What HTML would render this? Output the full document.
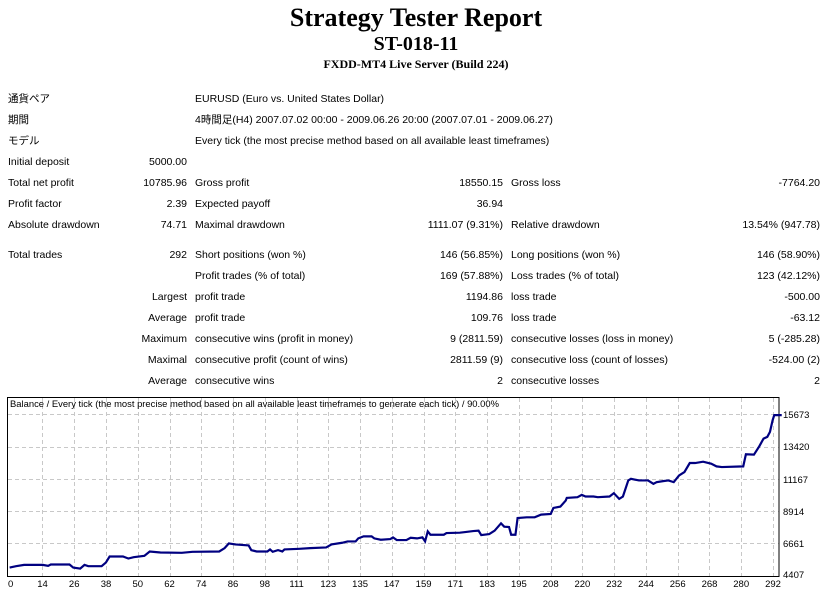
<!DOCTYPE html>
<html><head><meta charset="utf-8"><style>
body{margin:0;width:832px;height:593px;background:#fff;position:relative;overflow:hidden;font-family:"Liberation Sans","Noto Sans CJK JP",sans-serif;font-size:10.5px;color:#000}
.a{position:absolute;white-space:nowrap;line-height:13px}
.r{text-align:right}
h1,h2,h3{margin:0;position:absolute;left:0;width:832px;text-align:center;font-family:"Liberation Serif",serif;font-weight:bold}
</style></head><body>
<h1 style="top:3px;font-size:26px">Strategy Tester Report</h1>
<h2 style="top:33px;font-size:20px">ST-018-11</h2>
<h3 style="top:57px;font-size:12px">FXDD-MT4 Live Server (Build 224)</h3>
<div id="t"></div>
<svg width="832" height="593" style="position:absolute;left:0;top:0" xmlns="http://www.w3.org/2000/svg">
<g stroke="#c8c8c8" stroke-dasharray="4,3" stroke-width="1">
<line x1="8" x2="779" y1="414.5" y2="414.5"/><line x1="8" x2="779" y1="447.5" y2="447.5"/><line x1="8" x2="779" y1="479.5" y2="479.5"/><line x1="8" x2="779" y1="511.5" y2="511.5"/><line x1="8" x2="779" y1="543.5" y2="543.5"/>
</g>
<g id="vg" stroke="#c8c8c8" stroke-dasharray="4,3"></g>
<rect x="7.5" y="397.5" width="771.5" height="179" fill="none" stroke="#000"/>
<g transform="translate(0,390) scale(0.5347,0.335)"><polyline fill="none" stroke="#000080" stroke-width="2.2" vector-effect="non-scaling-stroke" points="18,530 30,526 45,522 80,522 90,525 95,521 130,521 137,530 150,533 158,522 165,526 190,526 198,515 205,497 230,497 240,503 250,499 270,495 280,482 300,485 340,486 360,483 410,482 420,472 428,458 440,461 465,464 470,478 480,482 500,482 505,476 510,483 520,478 528,482 532,476 560,474 580,472 610,470 620,461 640,456 650,452 665,452 670,443 680,437 695,437 700,443 712,447 730,445 735,440 742,448 760,448 768,441 780,443 790,440 795,452 800,422 805,432 830,432 835,427 860,426 870,424 885,421 895,420 900,433 915,430 925,420 937,398 943,408 952,409 956,432 964,432 968,382 985,380 1000,380 1012,372 1030,370 1035,352 1048,348 1058,330 1060,322 1080,320 1088,313 1095,318 1110,318 1118,320 1140,318 1148,308 1158,325 1165,318 1175,270 1180,265 1195,270 1212,270 1222,280 1228,275 1240,272 1250,270 1260,275 1270,255 1280,245 1290,218 1300,218 1315,214 1330,220 1340,228 1350,230 1390,228 1395,192 1410,193 1420,168 1428,145 1435,140 1440,125 1445,90 1448,75 1462,75"/></g>
<g font-family="Liberation Sans,sans-serif" font-size="9.5" fill="#000">
<text x="10" y="407" textLength="489" lengthAdjust="spacingAndGlyphs">Balance / Every tick (the most precise method based on all available least timeframes to generate each tick) / 90.00%</text>
<text x="783" y="418">15673</text><text x="783" y="450">13420</text><text x="783" y="483">11167</text><text x="783" y="515">8914</text><text x="783" y="547">6661</text><text x="783" y="578">4407</text>
</g>
<g id="xl" font-family="Liberation Sans,sans-serif" font-size="9.5" text-anchor="middle"></g>
</svg>
<script>
var rows=[
[100,"通貨ペア","","EURUSD (Euro vs. United States Dollar)"],
[121,"期間","","4時間足(H4) 2007.07.02 00:00 - 2009.06.26 20:00 (2007.07.01 - 2009.06.27)"],
[142,"モデル","","Every tick (the most precise method based on all available least timeframes)"],
[163,"Initial deposit","5000.00"],
[184,"Total net profit","10785.96","Gross profit","18550.15","Gross loss","-7764.20"],
[205,"Profit factor","2.39","Expected payoff","36.94"],
[226,"Absolute drawdown","74.71","Maximal drawdown","1111.07 (9.31%)","Relative drawdown","13.54% (947.78)"],
[256,"Total trades","292","Short positions (won %)","146 (56.85%)","Long positions (won %)","146 (58.90%)"],
[277,"","","Profit trades (% of total)","169 (57.88%)","Loss trades (% of total)","123 (42.12%)"],
[298,"","Largest","profit trade","1194.86","loss trade","-500.00"],
[319,"","Average","profit trade","109.76","loss trade","-63.12"],
[340,"","Maximum","consecutive wins (profit in money)","9 (2811.59)","consecutive losses (loss in money)","5 (-285.28)"],
[361,"","Maximal","consecutive profit (count of wins)","2811.59 (9)","consecutive loss (count of losses)","-524.00 (2)"],
[382,"","Average","consecutive wins","2","consecutive losses","2"]];
var h="";
rows.forEach(function(r){var y=r[0]-7;
if(r[1])h+='<div class="a" style="left:8px;top:'+y+'px">'+r[1]+'</div>';
if(r[2])h+='<div class="a r" style="right:645px;top:'+y+'px">'+r[2]+'</div>';
if(r[3])h+='<div class="a" style="left:195px;top:'+y+'px">'+r[3]+'</div>';
if(r[4])h+='<div class="a r" style="right:329px;top:'+y+'px">'+r[4]+'</div>';
if(r[5])h+='<div class="a" style="left:511px;top:'+y+'px">'+r[5]+'</div>';
if(r[6])h+='<div class="a r" style="right:12px;top:'+y+'px">'+r[6]+'</div>';});
document.getElementById("t").innerHTML=h;
var lab=[0,14,26,38,50,62,74,86,98,111,123,135,147,159,171,183,195,208,220,232,244,256,268,280,292];
var xs="",vs="";
lab.forEach(function(l,i){var x=10.7+i*(773-10.7)/24;
xs+='<text x="'+x.toFixed(1)+'" y="587">'+l+'</text>';
if(i>0)vs+='<line x1="'+(Math.round(x)+.5)+'" x2="'+(Math.round(x)+.5)+'" y1="398" y2="576"/>';});
document.getElementById("xl").innerHTML=xs;document.getElementById("vg").innerHTML=vs;
</script>
</body></html>
